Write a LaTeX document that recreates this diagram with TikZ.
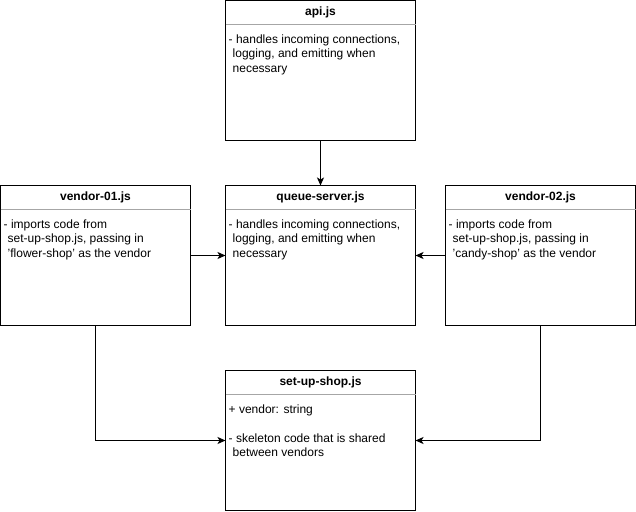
\documentclass[tikz,border=0pt]{standalone}
\usepackage{fontspec}
\setmainfont{Liberation Sans}
\usetikzlibrary{arrows.meta,positioning}
\tikzset{
  classbox/.style={draw=black,line width=1pt,minimum width=190pt,minimum height=140pt,inner sep=0pt,outer sep=0pt,fill=white},
  headtext/.style={font=\fontsize{12pt}{14pt}\selectfont\bfseries,inner sep=0pt},
  bodytext/.style={font=\fontsize{12pt}{14.5pt}\selectfont,align=left,inner sep=0pt,anchor=north west},
  divider/.style={draw=gray!70,line width=1pt},
  link/.style={draw=black,line width=1pt,-{Stealth[length=8pt,width=7pt,inset=2pt]}}
}
\newcommand{\ind}{\hspace*{4pt}}
\begin{document}
\begin{tikzpicture}[x=1pt,y=-1pt]
\useasboundingbox (0,0) rectangle (636,511);
% boxes
\node[classbox] (api) at (320.5,70.5) {};
\node[classbox] (queue) at (320.5,255.5) {};
\node[classbox] (v1) at (95.5,255.5) {};
\node[classbox] (v2) at (540.5,255.5) {};
\node[classbox] (shop) at (320.5,440.5) {};
% dividers
\foreach \b in {api,queue,v1,v2,shop}{
  \draw[divider] ([yshift=-24pt]\b.north west) -- ([yshift=-24pt]\b.north east);
}
% headers
\node[headtext] (apih) at ([yshift=-12pt]api.north) {api.js};
\node[headtext] (queueh) at ([yshift=-12pt]queue.north) {queue-server.js};
\node[headtext] (v1h) at ([yshift=-12pt]v1.north) {vendor-01.js};
\node[headtext] (v2h) at ([yshift=-12pt]v2.north) {vendor-02.js};
\node[headtext] (shoph) at ([yshift=-12pt]shop.north) {set-up-shop.js};
% bodies
\node[bodytext] (apib) at ([xshift=3pt,yshift=-34pt]api.north west) {- handles incoming connections,\\\ind logging, and emitting when\\\ind necessary};
\node[bodytext] (queueb) at ([xshift=3pt,yshift=-34pt]queue.north west) {- handles incoming connections,\\\ind logging, and emitting when\\\ind necessary};
\node[bodytext] (v1b) at ([xshift=3pt,yshift=-34pt]v1.north west) {- imports code from\\\ind set-up-shop.js, passing in\\\ind 'flower-shop' as the vendor};
\node[bodytext] (v2b) at ([xshift=3pt,yshift=-34pt]v2.north west) {- imports code from\\\ind set-up-shop.js, passing in\\\ind 'candy-shop' as the vendor};
\node[bodytext] (shopb) at ([xshift=3pt,yshift=-34pt]shop.north west) {+ vendor: string\\[14.5pt]- skeleton code that is shared\\\ind between vendors};
% connectors
\draw[link] (api.south) -- (queue.north);
\draw[link] (v1.east) -- (queue.west);
\draw[link] (v2.west) -- (queue.east);
\draw[link] (v1.south) |- (shop.west);
\draw[link] (v2.south) |- (shop.east);
\end{tikzpicture}
\end{document}
